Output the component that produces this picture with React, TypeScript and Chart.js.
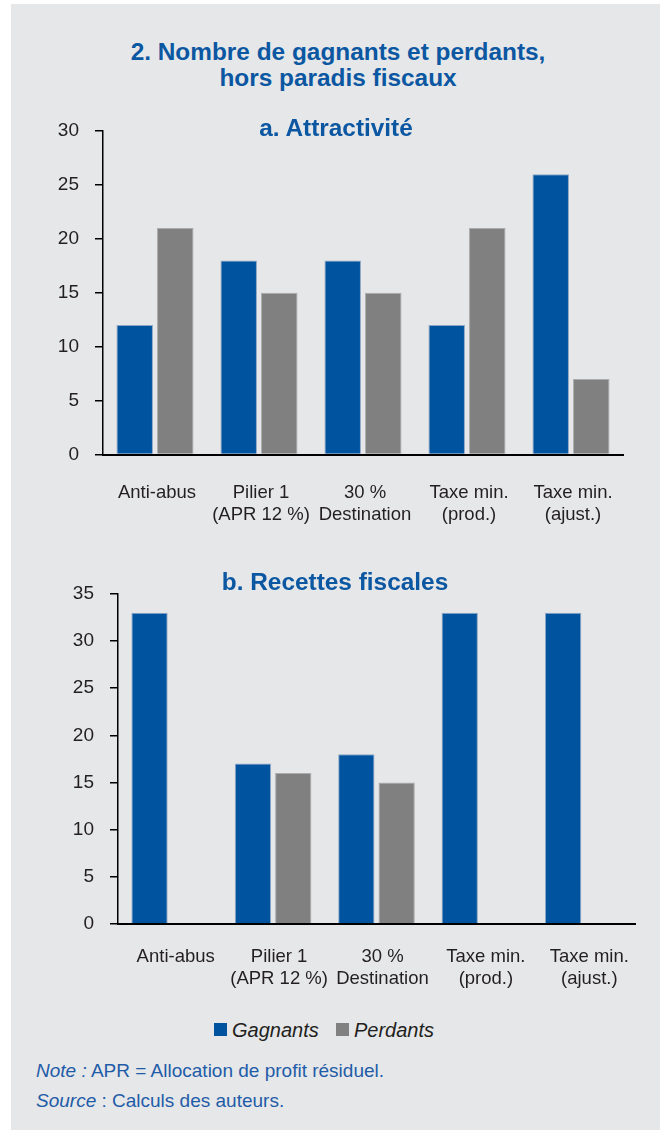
import React, { useEffect, useRef } from "react";
import { Chart, registerables } from "chart.js";

Chart.register(...registerables);

const categories: string[][] = [
  ["Anti-abus"],
  ["Pilier 1", "(APR 12 %)"],
  ["30 %", "Destination"],
  ["Taxe min.", "(prod.)"],
  ["Taxe min.", "(ajust.)"],
];
const seriesNames = ["Gagnants", "Perdants"];
const attrGagnants = [12, 18, 18, 12, 26];
const attrPerdants = [21, 15, 15, 21, 7];
const recGagnants = [33, 17, 18, 33, 33];
const recPerdants = [0, 16, 15, 0, 0];
const attrTicks = { min: 0, max: 30, step: 5 };
const recTicks = { min: 0, max: 35, step: 5 };

const BLUE = "#00539f";
const GREY = "#808080";
const TITLE_BLUE = "#0c57a2";
const TEXT = "#231f20";
const FONT = "'Liberation Sans', Arial, Helvetica, sans-serif";

function makeConfig(
  g: number[],
  p: number[],
  t: { min: number; max: number; step: number },
  yWidth: number,
  xHeight: number,
  pad: { top: number; right: number },
  xLabelPad: number,
  labelOffset: number
): any {
  return {
    type: "bar",
    data: {
      labels: categories,
      datasets: [
        {
          label: seriesNames[0],
          data: g,
          backgroundColor: BLUE,
          borderColor: "#8ea6c4",
          borderWidth: 1,
          borderSkipped: "bottom",
          barPercentage: 0.9,
          categoryPercentage: 0.78,
        },
        {
          label: seriesNames[1],
          data: p,
          backgroundColor: GREY,
          borderColor: "#ababab",
          borderWidth: 1,
          borderSkipped: "bottom",
          barPercentage: 0.9,
          categoryPercentage: 0.78,
        },
      ],
    },
    options: {
      responsive: false,
      maintainAspectRatio: false,
      animation: false,
      devicePixelRatio: 1,
      layout: { padding: { left: 0, top: pad.top, right: pad.right, bottom: 0 } },
      plugins: { legend: { display: false }, tooltip: { enabled: false }, title: { display: false } },
      scales: {
        x: {
          grid: { display: false },
          border: { display: true, color: "#000", width: 2 },
          ticks: {
            color: TEXT,
            font: { family: FONT, size: 18.5, lineHeight: 1.15 },
            padding: xLabelPad,
            maxRotation: 0,
            autoSkip: false,
            labelOffset: labelOffset,
          },
          afterFit: (s: any) => {
            s.height = xHeight;
          },
        },
        y: {
          min: t.min,
          max: t.max,
          grid: {
            display: true,
            drawOnChartArea: false,
            drawTicks: true,
            tickLength: 8,
            color: "#000",
            lineWidth: 1.5,
          },
          border: { display: true, color: "#000", width: 1.5 },
          ticks: {
            stepSize: t.step,
            color: TEXT,
            font: { family: FONT, size: 19 },
            padding: 16,
          },
          afterFit: (s: any) => {
            s.width = yWidth;
          },
        },
      },
    },
  };
}

export default function App() {
  const refA = useRef<HTMLCanvasElement | null>(null);
  const refB = useRef<HTMLCanvasElement | null>(null);

  useEffect(() => {
    const a = new Chart(
      refA.current as HTMLCanvasElement,
      makeConfig(attrGagnants, attrPerdants, attrTicks, 103, 75.5, { top: 31, right: 39 }, 20, 2)
    );
    const b = new Chart(
      refB.current as HTMLCanvasElement,
      makeConfig(recGagnants, recPerdants, recTicks, 118, 86.3, { top: 54, right: 27 }, 15, 6)
    );
    return () => {
      a.destroy();
      b.destroy();
    };
  }, []);

  const abs = (o: React.CSSProperties): React.CSSProperties => ({ position: "absolute", ...o });

  return (
    <div style={abs({ left: 0, top: 0, width: 662, height: 1130, background: "#ffffff", fontFamily: FONT, overflow: "hidden" })}>
      <div style={abs({ left: 11, top: 4, width: 649, height: 1126, background: "#e6e7e9" })} />
      <div
        style={abs({
          left: 0,
          top: 39,
          width: 676,
          textAlign: "center",
          fontWeight: "bold",
          fontSize: 24.4,
          lineHeight: "26px",
          color: TITLE_BLUE,
        })}
      >
        2. Nombre de gagnants et perdants,
        <br />
        hors paradis fiscaux
      </div>
      <canvas ref={refA} width={662} height={430} style={abs({ left: 0, top: 100, width: 662, height: 430 })} />
      <canvas ref={refB} width={662} height={470} style={abs({ left: 0, top: 540, width: 662, height: 470 })} />
      <div style={abs({ left: 0, top: 115, width: 672, textAlign: "center", fontWeight: "bold", fontSize: 24.4, lineHeight: "26px", color: TITLE_BLUE })}>
        a. Attractivité
      </div>
      <div style={abs({ left: 0, top: 569, width: 670, textAlign: "center", fontWeight: "bold", fontSize: 24.4, lineHeight: "26px", color: TITLE_BLUE })}>
        b. Recettes fiscales
      </div>
      <div style={abs({ left: 214, top: 1023, width: 13, height: 13, background: BLUE })} />
      <div style={abs({ left: 232, top: 1017, fontStyle: "italic", fontSize: 20, lineHeight: "26px", color: TEXT })}>{seriesNames[0]}</div>
      <div style={abs({ left: 336, top: 1023, width: 13, height: 13, background: GREY })} />
      <div style={abs({ left: 354, top: 1017, fontStyle: "italic", fontSize: 20, lineHeight: "26px", color: TEXT })}>{seriesNames[1]}</div>
      <div style={abs({ left: 36, top: 1056, fontSize: 19, lineHeight: "30px", color: "#1f5ca8", whiteSpace: "nowrap" })}>
        <span style={{ fontStyle: "italic" }}>Note :</span> APR = Allocation de profit résiduel.
        <br />
        <span style={{ fontStyle: "italic" }}>Source</span> : Calculs des auteurs.
      </div>
    </div>
  );
}
